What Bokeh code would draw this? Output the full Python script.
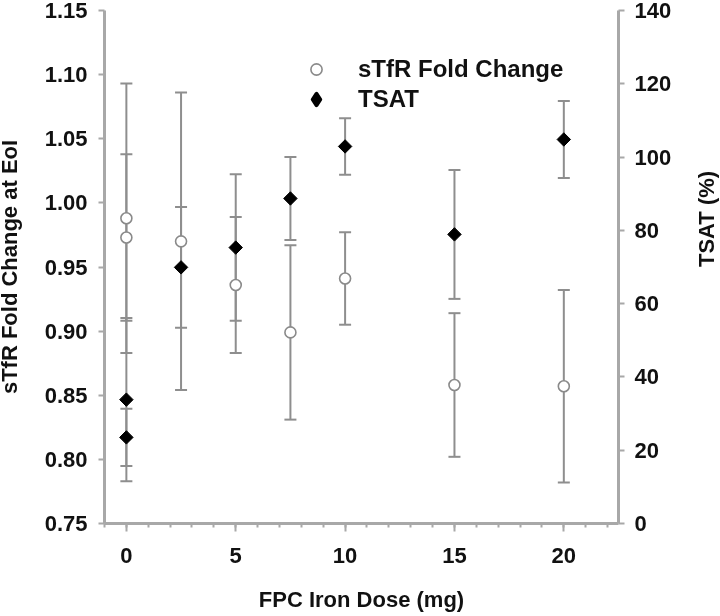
import math
from bokeh.plotting import figure
from bokeh.models import (ColumnDataSource, Range1d, LinearAxis, FixedTicker,
                          PrintfTickFormatter, Whisker, TeeHead, Legend, LegendItem)
from bokeh.embed import file_html
from bokeh.resources import INLINE

# ---- data ----
dose = [0, 0, 2.5, 5, 7.5, 10, 15, 20]
stfr = [0.988, 0.973, 0.970, 0.936, 0.899, 0.941, 0.858, 0.857]
stfr_err = [0.105, 0.065, 0.116, 0.053, 0.068, 0.036, 0.056, 0.075]
tsat = [33.8, 23.5, 69.9, 75.3, 88.7, 102.9, 78.9, 104.8]
tsat_err = [22.3, 7.8, 16.5, 20.0, 11.3, 7.7, 17.6, 10.5]

y_ticks = [0.75, 0.80, 0.85, 0.90, 0.95, 1.00, 1.05, 1.10, 1.15]
tsat_ticks = [0, 20, 40, 60, 80, 100, 120, 140]
x_ticks = [0, 5, 10, 15, 20]
x_minor = list(range(-1, 23))

x_title = "FPC Iron Dose (mg)"
y_title = "sTfR Fold Change at EoI"
y2_title = "TSAT (%)"

src_s = ColumnDataSource(dict(x=dose, y=stfr,
                              lo=[v - e for v, e in zip(stfr, stfr_err)],
                              hi=[v + e for v, e in zip(stfr, stfr_err)]))
src_t = ColumnDataSource(dict(x=dose, y=tsat,
                              lo=[v - e for v, e in zip(tsat, tsat_err)],
                              hi=[v + e for v, e in zip(tsat, tsat_err)]))
src_key = ColumnDataSource(dict(x=[float("nan")], y=[float("nan")]))

AX = "#a8a8a8"
BAR = "#8e8e8e"
FONT = "Liberation Sans"
TXT = "#111111"

p = figure(width=750, height=616, x_range=Range1d(-1, 22.5), y_range=Range1d(0.75, 1.15),
           output_backend="svg", toolbar_location=None,
           min_border_left=114, min_border_right=122, min_border_top=10, min_border_bottom=93)
p.styles = {"position": "fixed", "left": "-10px", "top": "0px"}
p.outline_line_color = None
p.xgrid.visible = False
p.ygrid.visible = False
p.background_fill_color = "white"
p.border_fill_color = "white"

xax = p.xaxis[0]
yax = p.yaxis[0]
xax.ticker = FixedTicker(ticks=x_ticks, minor_ticks=x_minor)
yax.ticker = FixedTicker(ticks=y_ticks, minor_ticks=[])
yax.formatter = PrintfTickFormatter(format="%.2f")
xax.axis_label = x_title
yax.axis_label = y_title

p.extra_y_ranges = {"tsat": Range1d(0, 140)}
raxis = LinearAxis(y_range_name="tsat", axis_label=y2_title,
                   ticker=FixedTicker(ticks=tsat_ticks, minor_ticks=[]))
p.add_layout(raxis, "right")

for ax in [xax, yax, raxis]:
    ax.axis_line_color = AX
    ax.axis_line_width = 3
    ax.major_tick_line_color = AX
    ax.major_tick_line_width = 2
    ax.major_tick_in = 0
    ax.major_tick_out = 6
    ax.minor_tick_line_color = AX
    ax.minor_tick_line_width = 2
    ax.minor_tick_in = 0
    ax.minor_tick_out = 4
    ax.major_label_text_font = FONT
    ax.major_label_text_font_style = "bold"
    ax.major_label_text_font_size = "22px"
    ax.major_label_text_color = TXT
    ax.axis_label_text_font = FONT
    ax.axis_label_text_font_style = "bold"
    ax.axis_label_text_font_size = "22px"
    ax.axis_label_text_color = TXT

xax.major_tick_out = 8
xax.major_label_standoff = 16
xax.axis_label_standoff = 21
yax.major_label_standoff = 11
yax.axis_label_standoff = 20
raxis.major_label_standoff = 10
raxis.axis_label_standoff = 32
raxis.axis_label_orientation = math.pi / 2

# error bars
for src, rng in [(src_s, "default"), (src_t, "tsat")]:
    w = Whisker(source=src, base="x", upper="hi", lower="lo", dimension="height",
                line_color=BAR, line_width=2, level="underlay", y_range_name=rng)
    w.upper_head = TeeHead(size=12, line_color=BAR, line_width=2)
    w.lower_head = TeeHead(size=12, line_color=BAR, line_width=2)
    p.add_layout(w)

r1 = p.scatter("x", "y", source=src_s, marker="circle", size=11,
               fill_color="white", line_color="#8a8a8a", line_width=1.6)
r2 = p.scatter("x", "y", source=src_t, y_range_name="tsat", marker="square",
               angle=math.pi / 4, size=9.5, fill_color="black", line_color="black")
# legend key for TSAT (diamond); NaN point so nothing is drawn in the plot area
r2_key = p.scatter("x", "y", source=src_key, marker="diamond", size=12,
                   fill_color="black", line_color="black", line_width=4,
                   line_join="round")

legend = Legend(items=[LegendItem(label="sTfR Fold Change", renderers=[r1]),
                       LegendItem(label="TSAT", renderers=[r2_key])],
                location=(198, 409), border_line_color=None, background_fill_alpha=0,
                padding=0, margin=0, spacing=0, glyph_width=28, glyph_height=30,
                label_height=30, label_standoff=28, label_text_font=FONT,
                label_text_font_style="bold", label_text_font_size="24px",
                label_text_color=TXT)
p.add_layout(legend)

open("out.html", "w").write(file_html(p, INLINE))
